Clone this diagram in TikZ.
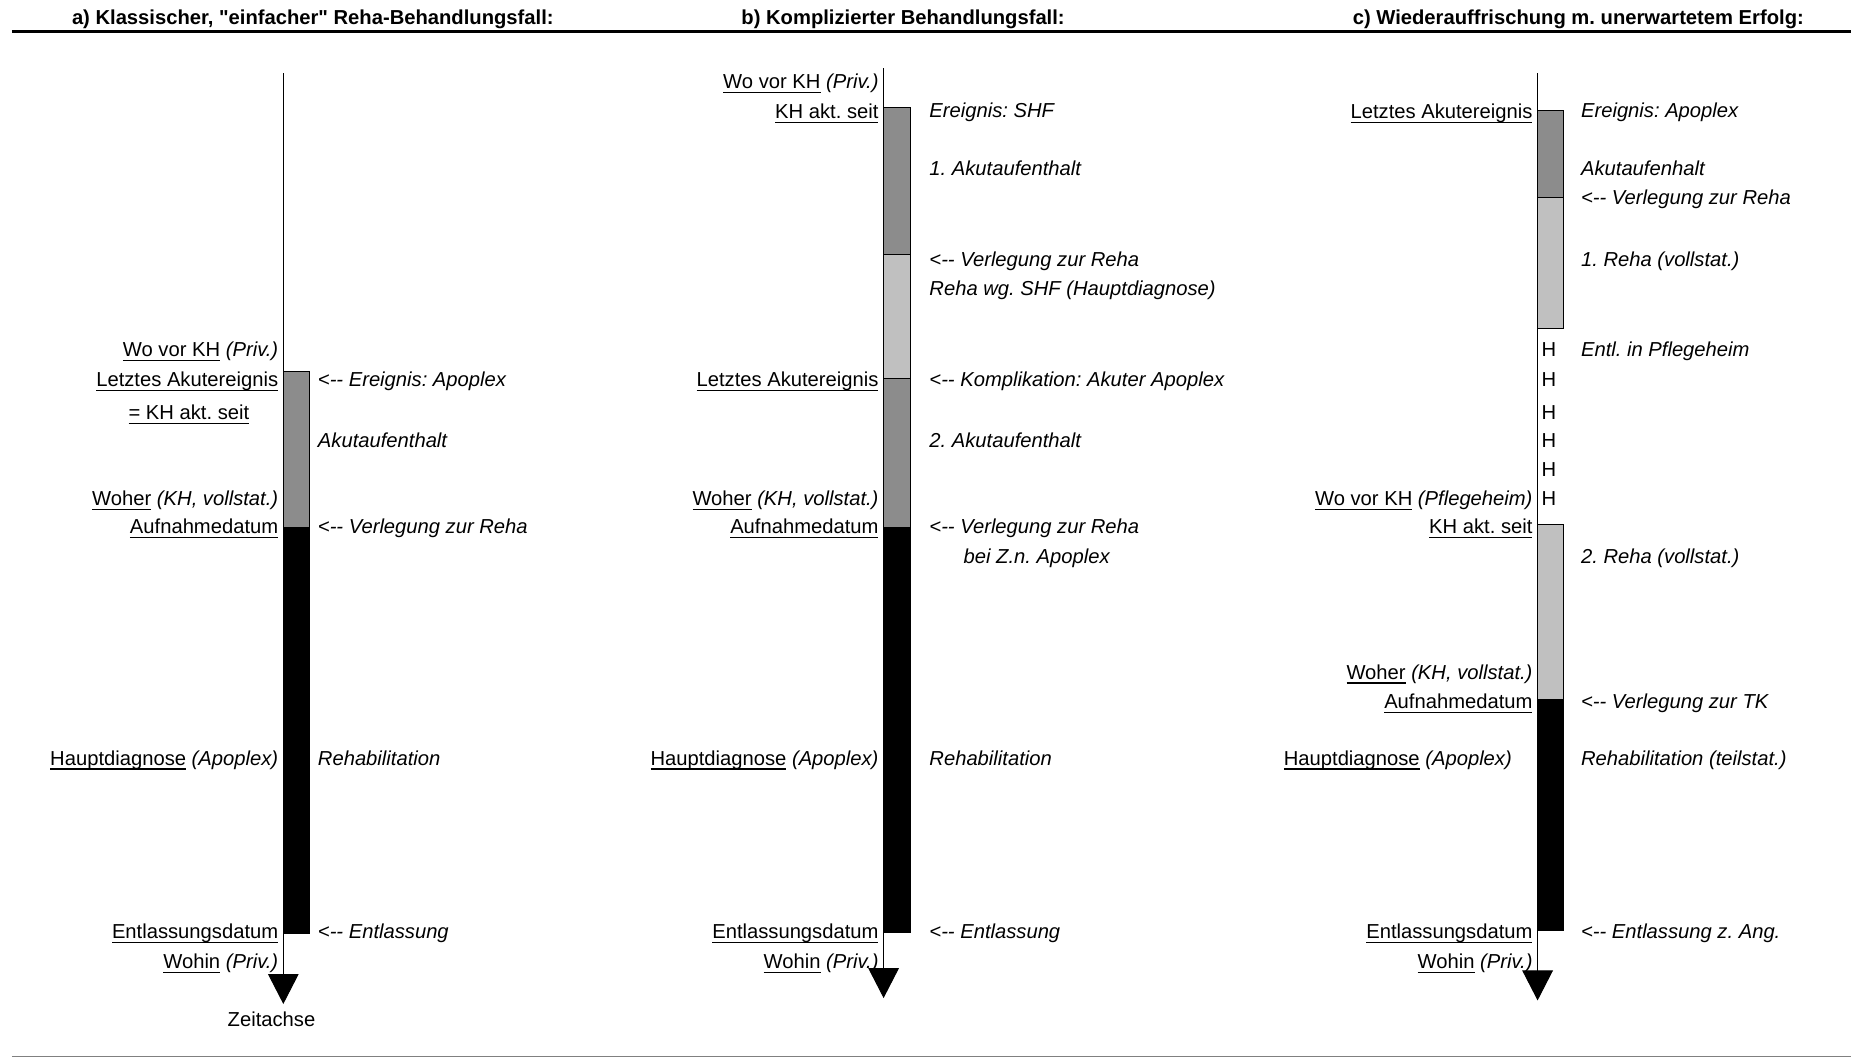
\documentclass[tikz,border=0pt]{standalone}
\usepackage{fontspec}
\setmainfont{Liberation Sans}
\newfontfamily\lsans{Liberation Sans}
\usetikzlibrary{arrows.meta}
\newcommand\fs{\lsans\fontsize{10.1pt}{12pt}\selectfont\frenchspacing}
\newcommand\ulx[1]{\setbox0=\hbox{#1}\rlap{\rule[-2.2pt]{\wd0}{0.65pt}}\box0\relax}
\definecolor{dgray}{HTML}{8C8C8C}
\definecolor{lgray}{HTML}{C0C0C0}
\tikzset{
  llab/.style={font=\fs, inner sep=0pt, anchor=mid east, yshift=-1.1pt},
  rlab/.style={font=\fs\itshape, inner sep=0pt, anchor=mid west, yshift=-1.1pt},
  clab/.style={font=\fs, inner sep=0pt, anchor=mid, yshift=-1.1pt},
  ttl/.style={font=\fs\bfseries, inner sep=0pt, anchor=base},
  seg/.style={draw=black, line width=0.5pt},
  axisline/.style={line width=0.5pt, -{Triangle[width=15.3pt,length=15pt]}},
}
\begin{document}
\begin{tikzpicture}[x=0.59025pt,y=-0.59025pt]
\useasboundingbox (0,0) rectangle (1568,897);
% frame lines
\coordinate (tl) at (10,27); \coordinate (tr) at (1568,27);
\coordinate (bl) at (10,895); \coordinate (br) at (1568,895);
\draw[line width=1.5pt] (tl) -- (tr);
\draw[line width=0.75pt, gray] (bl) -- (br);
% titles
\node[ttl] (ta) at (265,21) {a) Klassischer, "einfacher" Reha-Behandlungsfall:};
\node[ttl] (tb) at (765,21) {b) Komplizierter Behandlungsfall:};
\node[ttl] (tc) at (1337,21) {c) Wiederauffrischung m. unerwartetem Erfolg:};

% ================= Panel a =================
\fill[dgray] (240,314.5) rectangle (262.5,446.5);
\fill[black] (240,446.5) rectangle (262.5,790.5);
\draw[seg] (240,314.5) rectangle (262.5,790.5);
\coordinate (atop) at (240,62); \coordinate (atip) at (240,850.5);
\draw[axisline] (atop) -- (atip);
\node[clab] (azeit) at (230,863) {Zeitachse};
\node[llab] (a1) at (236,296) {\ulx{Wo vor KH} \textit{(Priv.)}};
\node[llab] (a2) at (236,321) {\ulx{Letztes Akutereignis}};
\node[clab] (a3) at (160,349) {\ulx{= KH akt. seit}};
\node[llab] (a4) at (236,422) {\ulx{Woher} \textit{(KH, vollstat.)}};
\node[llab] (a5) at (236,446) {\ulx{Aufnahmedatum}};
\node[llab] (a6) at (236,642) {\ulx{Hauptdiagnose} \textit{(Apoplex)}};
\node[llab] (a7) at (236,789) {\ulx{Entlassungsdatum}};
\node[llab] (a8) at (236,814) {\ulx{Wohin} \textit{(Priv.)}};
\node[rlab] (ar1) at (269,321) {<-- Ereignis: Apoplex};
\node[rlab] (ar2) at (269,373) {Akutaufenthalt};
\node[rlab] (ar3) at (269,446) {<-- Verlegung zur Reha};
\node[rlab] (ar4) at (269,642) {Rehabilitation};
\node[rlab] (ar5) at (269,789) {<-- Entlassung};

% ================= Panel b =================
\fill[dgray] (748.5,91) rectangle (771,216);
\fill[lgray] (748.5,216) rectangle (771,321);
\fill[dgray] (748.5,321) rectangle (771,446);
\fill[black] (748.5,446) rectangle (771,790);
\draw[seg] (748.5,91) rectangle (771,790);
\draw[seg] (748.5,216) -- (771,216);
\draw[seg] (748.5,321) -- (771,321);
\coordinate (btop) at (748.5,58); \coordinate (btip) at (748.5,845.5);
\draw[axisline] (btop) -- (btip);
\node[llab] (b1) at (744.5,69) {\ulx{Wo vor KH} \textit{(Priv.)}};
\node[llab] (b2) at (744.5,94) {\ulx{KH akt. seit}};
\node[llab] (b3) at (744.5,321) {\ulx{Letztes Akutereignis}};
\node[llab] (b4) at (744.5,422) {\ulx{Woher} \textit{(KH, vollstat.)}};
\node[llab] (b5) at (744.5,446) {\ulx{Aufnahmedatum}};
\node[llab] (b6) at (744.5,642) {\ulx{Hauptdiagnose} \textit{(Apoplex)}};
\node[llab] (b7) at (744.5,789) {\ulx{Entlassungsdatum}};
\node[llab] (b8) at (744.5,814) {\ulx{Wohin} \textit{(Priv.)}};
\node[rlab] (br1) at (787,93) {Ereignis: SHF};
\node[rlab] (br2) at (787,142) {1. Akutaufenthalt};
\node[rlab] (br3) at (787,219) {<-- Verlegung zur Reha};
\node[rlab] (br4) at (787,244) {Reha wg. SHF (Hauptdiagnose)};
\node[rlab] (br5) at (787,321) {<-- Komplikation: Akuter Apoplex};
\node[rlab] (br6) at (787,373) {2. Akutaufenthalt};
\node[rlab] (br7) at (787,446) {<-- Verlegung zur Reha};
\node[rlab] (br8) at (816,471) {bei Z.n. Apoplex};
\node[rlab] (br9) at (787,642) {Rehabilitation};
\node[rlab] (br10) at (787,789) {<-- Entlassung};

% ================= Panel c =================
\fill[dgray] (1302.5,93.5) rectangle (1324.5,167);
\fill[lgray] (1302.5,167) rectangle (1324.5,278);
\fill[lgray] (1302.5,444) rectangle (1324.5,592);
\fill[black] (1302.5,592) rectangle (1324.5,788);
\draw[seg] (1302.5,93.5) rectangle (1324.5,278);
\draw[seg] (1302.5,167) -- (1324.5,167);
\draw[seg] (1302.5,444) rectangle (1324.5,788);
\coordinate (ctop) at (1302.5,62); \coordinate (ctip) at (1302.5,847.5);
\draw[axisline] (ctop) -- (ctip);
\node[llab] (c1) at (1298.5,94) {\ulx{Letztes Akutereignis}};
\node[llab] (c2) at (1298.5,422) {\ulx{Wo vor KH} \textit{(Pflegeheim)}};
\node[llab] (c3) at (1298.5,446) {\ulx{KH akt. seit}};
\node[llab] (c4) at (1298.5,569) {\ulx{Woher} \textit{(KH, vollstat.)}};
\node[llab] (c5) at (1298.5,594) {\ulx{Aufnahmedatum}};
\node[llab] (c6) at (1281,642) {\ulx{Hauptdiagnose} \textit{(Apoplex)}};
\node[llab] (c7) at (1298.5,789) {\ulx{Entlassungsdatum}};
\node[llab] (c8) at (1298.5,814) {\ulx{Wohin} \textit{(Priv.)}};
\foreach \yy/\nn in {296/1,321/2,349/3,373/4,397/5,422/6}
  \node[clab] (ch\nn) at (1312,\yy) {H};
\node[rlab] (cr1) at (1339,93) {Ereignis: Apoplex};
\node[rlab] (cr2) at (1339,142) {Akutaufenhalt};
\node[rlab] (cr3) at (1339,167) {<-- Verlegung zur Reha};
\node[rlab] (cr4) at (1339,219) {1. Reha (vollstat.)};
\node[rlab] (cr5) at (1339,296) {Entl. in Pflegeheim};
\node[rlab] (cr6) at (1339,471) {2. Reha (vollstat.)};
\node[rlab] (cr7) at (1339,594) {<-- Verlegung zur TK};
\node[rlab] (cr8) at (1339,642) {Rehabilitation (teilstat.)};
\node[rlab] (cr9) at (1339,789) {<-- Entlassung z. Ang.};
\end{tikzpicture}
\end{document}
